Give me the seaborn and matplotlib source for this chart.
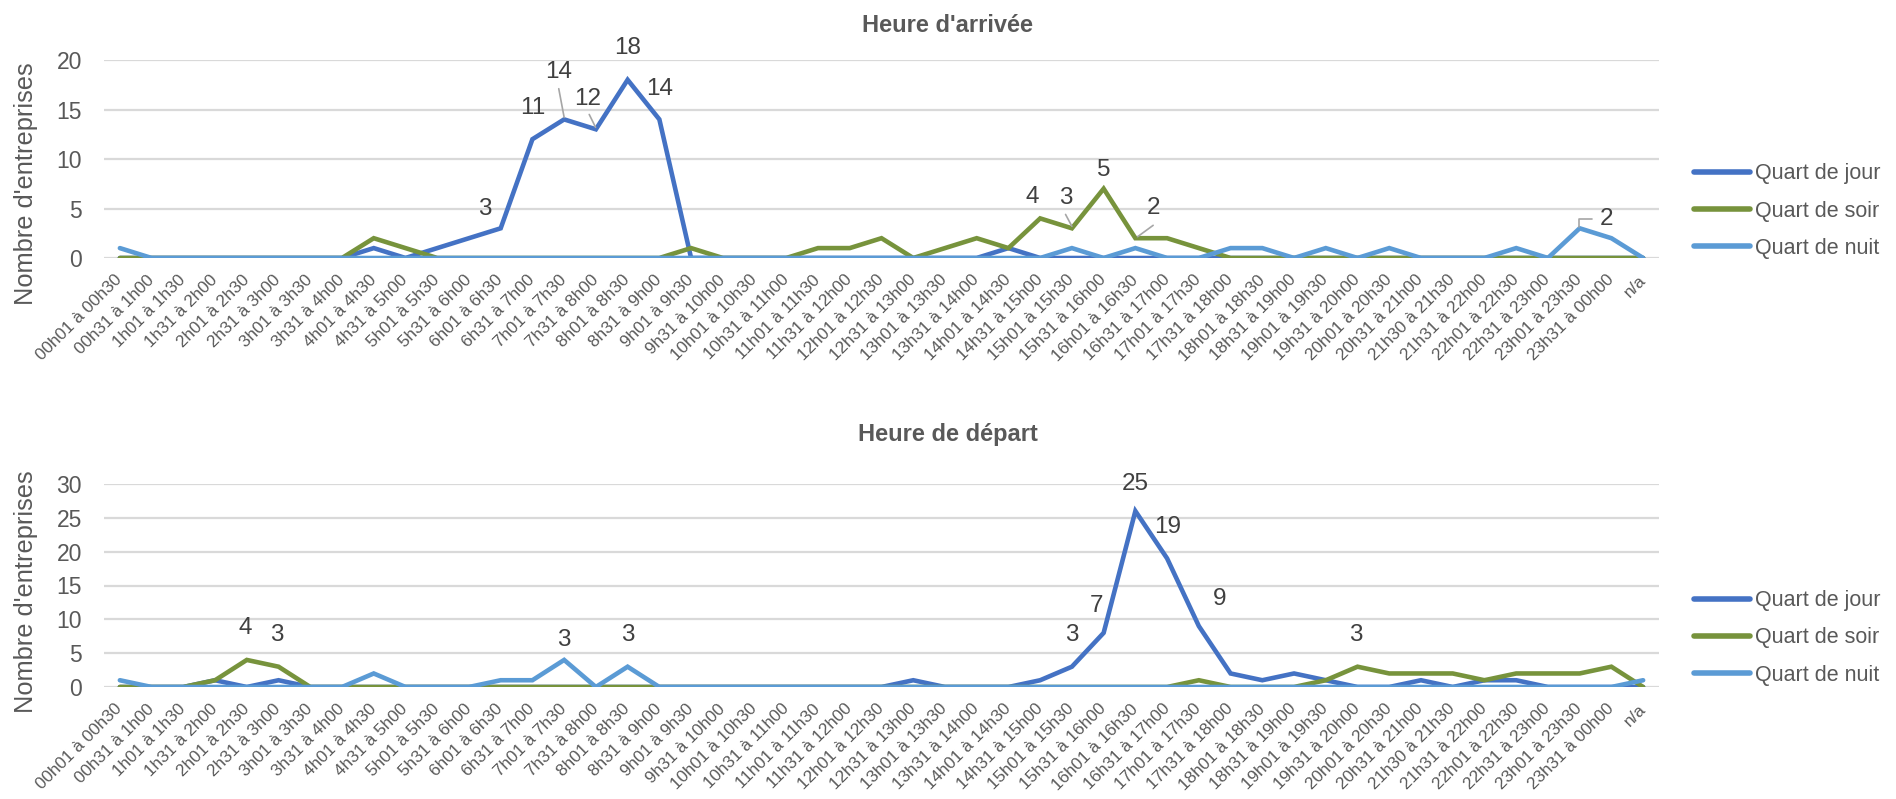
import numpy as np
import pandas as pd
import matplotlib
matplotlib.use("Agg")
import matplotlib.pyplot as plt
import seaborn as sns
from matplotlib import font_manager
from matplotlib.lines import Line2D

# ---------------- data ----------------
categories = [
    "00h01 à 00h30", "00h31 à 1h00", "1h01 à 1h30", "1h31 à 2h00", "2h01 à 2h30", "2h31 à 3h00",
    "3h01 à 3h30", "3h31 à 4h00", "4h01 à 4h30", "4h31 à 5h00", "5h01 à 5h30", "5h31 à 6h00",
    "6h01 à 6h30", "6h31 à 7h00", "7h01 à 7h30", "7h31 à 8h00", "8h01 à 8h30", "8h31 à 9h00",
    "9h01 à 9h30", "9h31 à 10h00", "10h01 à 10h30", "10h31 à 11h00", "11h01 à 11h30", "11h31 à 12h00",
    "12h01 à 12h30", "12h31 à 13h00", "13h01 à 13h30", "13h31 à 14h00", "14h01 à 14h30", "14h31 à 15h00",
    "15h01 à 15h30", "15h31 à 16h00", "16h01 à 16h30", "16h31 à 17h00", "17h01 à 17h30", "17h31 à 18h00",
    "18h01 à 18h30", "18h31 à 19h00", "19h01 à 19h30", "19h31 à 20h00", "20h01 à 20h30", "20h31 à 21h00",
    "21h30 à 21h30", "21h31 à 22h00", "22h01 à 22h30", "22h31 à 23h00", "23h01 à 23h30", "23h31 à 00h00",
    "n/a",
]
series_names = ["Quart de jour", "Quart de soir", "Quart de nuit"]

arrivee_jour = [0, 0, 0, 0, 0, 0, 0, 0, 1, 0, 1, 2, 3, 12, 14, 13, 18, 14, 0, 0, 0, 0, 0, 0, 0,
                0, 0, 0, 1, 0, 0, 0, 0, 0, 0, 0, 0, 0, 0, 0, 0, 0, 0, 0, 0, 0, 0, 0, 0]
arrivee_soir = [0, 0, 0, 0, 0, 0, 0, 0, 2, 1, 0, 0, 0, 0, 0, 0, 0, 0, 1, 0, 0, 0, 1, 1, 2,
                0, 1, 2, 1, 4, 3, 7, 2, 2, 1, 0, 0, 0, 0, 0, 0, 0, 0, 0, 0, 0, 0, 0, 0]
arrivee_nuit = [1, 0, 0, 0, 0, 0, 0, 0, 0, 0, 0, 0, 0, 0, 0, 0, 0, 0, 0, 0, 0, 0, 0, 0, 0,
                0, 0, 0, 0, 0, 1, 0, 1, 0, 0, 1, 1, 0, 1, 0, 1, 0, 0, 0, 1, 0, 3, 2, 0]

depart_jour = [0, 0, 0, 1, 0, 1, 0, 0, 0, 0, 0, 0, 0, 0, 0, 0, 0, 0, 0, 0, 0, 0, 0, 0, 0,
               1, 0, 0, 0, 1, 3, 8, 26, 19, 9, 2, 1, 2, 1, 0, 0, 1, 0, 1, 1, 0, 0, 0, 0]
depart_soir = [0, 0, 0, 1, 4, 3, 0, 0, 0, 0, 0, 0, 0, 0, 0, 0, 0, 0, 0, 0, 0, 0, 0, 0, 0,
               0, 0, 0, 0, 0, 0, 0, 0, 0, 1, 0, 0, 0, 1, 3, 2, 2, 2, 1, 2, 2, 2, 3, 0]
depart_nuit = [1, 0, 0, 0, 0, 0, 0, 0, 2, 0, 0, 0, 1, 1, 4, 0, 3, 0, 0, 0, 0, 0, 0, 0, 0,
               0, 0, 0, 0, 0, 0, 0, 0, 0, 0, 0, 0, 0, 0, 0, 0, 0, 0, 0, 0, 0, 0, 0, 1]

# data label texts as shown on the chart
arrivee_label_texts = ["3", "11", "14", "12", "18", "14", "4", "3", "5", "2", "2"]
depart_label_texts = ["4", "3", "3", "3", "3", "7", "25", "19", "9", "3"]

titles = ["Heure d'arrivée", "Heure de départ"]
y_title = "Nombre d'entreprises"

# ---------------- style ----------------
sns.set_theme(style="white")
names = {f.name for f in font_manager.fontManager.ttflist}
main_font = "Liberation Sans Narrow" if "Liberation Sans Narrow" in names else "Liberation Sans"
plt.rcParams["font.family"] = [main_font, "DejaVu Sans"]

palette = {"Quart de jour": "#4472C4", "Quart de soir": "#77933C", "Quart de nuit": "#5B9BD5"}
grey = "#595959"
LW = 3.3

W, H = 1896, 799
fig = plt.figure(figsize=(W / 100, H / 100), dpi=100)

def frac_box(left, right, top, bottom):
    return [left / W, 1 - bottom / H, (right - left) / W, (bottom - top) / H]

ax_top = fig.add_axes(frac_box(104, 1659, 60, 258))
ax_bot = fig.add_axes(frac_box(104, 1659, 484, 687))

# label layout (category-index x, value y)
arr_label_pos = [(11.5, 4.9), (13.0, 15.2), (13.83, 18.8), (14.75, 16.1), (16.0, 21.2), (17.0, 17.1),
                 (28.76, 6.15), (29.8, 6.05), (31.0, 8.85), (32.56, 5.05), (46.86, 3.9)]
arr_leaders = [[(13.83, 17.1), (14.0, 14.2)], [(14.79, 14.5), (14.99, 13.2)],
               [(29.8, 4.4), (30.0, 3.2)], [(32.56, 3.3), (32.07, 2.15)],
               [(46.38, 3.97), (45.98, 3.97), (45.98, 3.1)]]
dep_label_pos = [(3.94, 8.66), (4.96, 7.67), (14.0, 6.93), (16.0, 7.67), (30.0, 7.67), (30.77, 11.9),
                 (32.0, 29.95), (33.03, 23.6), (34.65, 12.97), (38.96, 7.67)]

def draw(ax, jour, soir, nuit, ymax, ystep, label_texts, label_pos, leaders):
    x = np.arange(len(categories))
    df = pd.DataFrame({
        "x": np.concatenate([x, x, x]),
        "val": np.concatenate([jour, soir, nuit]),
        "serie": np.repeat(series_names, len(categories)),
    })
    sns.lineplot(data=df, x="x", y="val", hue="serie", hue_order=series_names, palette=palette,
                 ax=ax, linewidth=LW, sort=False, legend=False, estimator=None,
                 solid_capstyle="round", solid_joinstyle="miter")
    ax.set_xlim(-0.5, len(categories) - 0.5)
    ax.set_ylim(0, ymax)
    ax.set_yticks(np.arange(0, ymax + 0.1, ystep))
    ax.yaxis.grid(True, color="#d9d9d9", linewidth=1.6)
    ax.set_axisbelow(True)
    for s in ax.spines.values():
        s.set_visible(False)
    ax.set_xticks(x)
    ax.set_xticklabels(categories, rotation=45, ha="right", va="center", rotation_mode="anchor",
                       fontsize=12.3, color=grey)
    ax.tick_params(axis="x", length=0, pad=14)
    ax.tick_params(axis="y", length=0, pad=16, labelsize=16.5, labelcolor=grey)
    ax.set_xlabel("")
    ax.set_ylabel("")
    for t, (px, py) in zip(label_texts, label_pos):
        ax.text(px, py, t, ha="center", va="center", fontsize=17.5, color="#404040", clip_on=False)
    for pts in leaders:
        xs, ys = zip(*pts)
        ax.plot(xs, ys, color="#a6a6a6", linewidth=1.2, clip_on=False)

draw(ax_top, arrivee_jour, arrivee_soir, arrivee_nuit, 20, 5,
     arrivee_label_texts, arr_label_pos, arr_leaders)
draw(ax_bot, depart_jour, depart_soir, depart_nuit, 30, 5,
     depart_label_texts, dep_label_pos, [])

fig.text(0.5, 1 - 25 / H, titles[0], ha="center", va="center", fontsize=17, fontweight="bold", color=grey)
fig.text(0.5, 1 - 435 / H, titles[1], ha="center", va="center", fontsize=17, fontweight="bold", color=grey)
fig.text(26 / W, 1 - 184 / H, y_title, rotation=90, ha="center", va="center", fontsize=18.3, color=grey)
fig.text(26 / W, 1 - 592 / H, y_title, rotation=90, ha="center", va="center", fontsize=18.3, color=grey)

handles = [Line2D([0], [0], color=palette[n], linewidth=LW + 0.7, solid_capstyle="round") for n in series_names]
for yc in (211, 638):
    fig.legend(handles, series_names, loc="center left", bbox_to_anchor=(1694 / W, 1 - yc / H),
               frameon=False, fontsize=15.5, labelcolor=grey, handlelength=2.6, handletextpad=0.25,
               labelspacing=0.75, borderaxespad=0, borderpad=0)

fig.savefig("out.png", dpi=100)
